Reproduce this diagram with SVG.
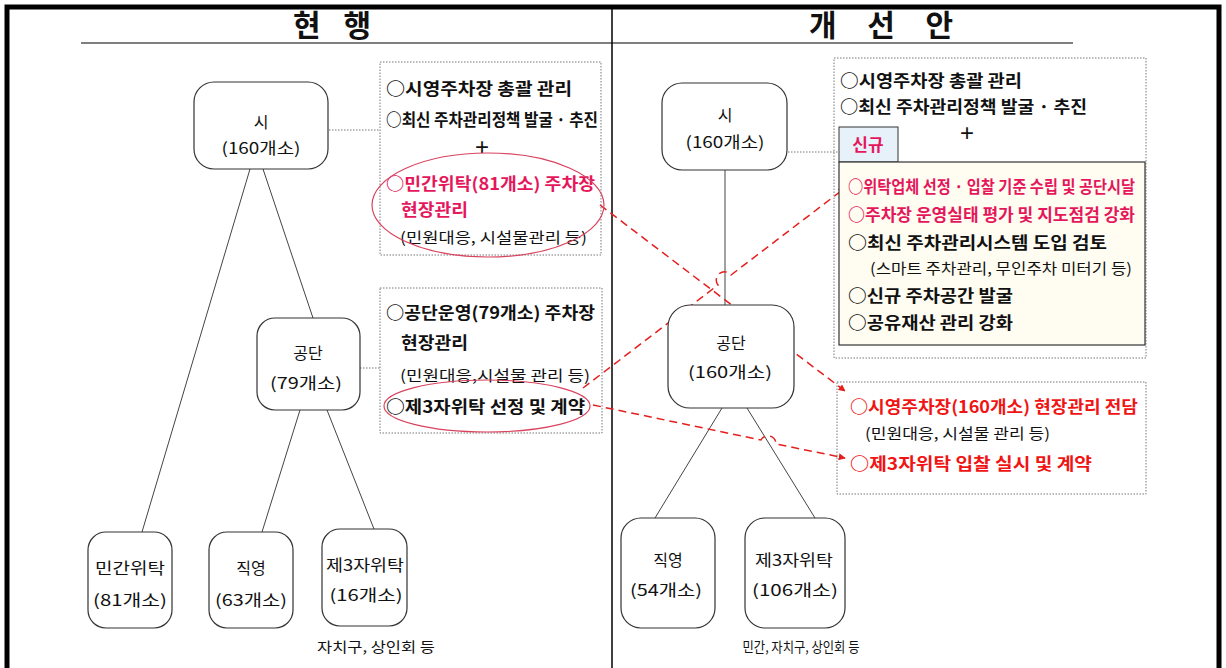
<svg xmlns="http://www.w3.org/2000/svg" width="1226" height="668" viewBox="0 0 1226 668">
<defs>
<style>
.t{font-family:"Noto Sans CJK KR","Noto Sans",sans-serif;fill:#111}
.b{font-weight:700;font-size:17px}
.n{font-size:15px;font-weight:400}
.nd{font-size:16px;font-weight:400;text-anchor:middle}
.pk{fill:#e5175c}
.rd{fill:#f01414}
.node{fill:#fff;stroke:#333;stroke-width:1.2}
.dot{fill:none;stroke:#777;stroke-width:1;stroke-dasharray:1.5 1.5}
.conn{stroke:#444;stroke-width:1;fill:none}
.arr{stroke:#e61e1e;stroke-width:1.5;stroke-dasharray:8 5;fill:none;marker-end:url(#ah)}
.ell{fill:none;stroke:#d9435f;stroke-width:1.2}
.plus{font-family:"Liberation Sans",sans-serif;font-size:24px;font-weight:400;fill:#111;text-anchor:middle}
</style>
<marker id="ah" viewBox="0 0 10 10" refX="9" refY="5" markerWidth="7" markerHeight="7" orient="auto" markerUnits="userSpaceOnUse">
<path d="M0,0 L10,5 L0,10 z" fill="#e61e1e"/>
</marker>
</defs>
<rect width="1226" height="668" fill="#fff"/>
<path d="M7,668 V7 H1219 V668" fill="none" stroke="#000" stroke-width="5"/>
<line x1="612" y1="9" x2="612" y2="668" stroke="#000" stroke-width="1.5"/>
<line x1="81" y1="43" x2="612" y2="43" stroke="#000" stroke-width="1.2"/>
<line x1="612" y1="43" x2="1073" y2="43" stroke="#000" stroke-width="1.2"/>
<text class="t" x="332" y="36" font-size="30" font-weight="700" text-anchor="middle" textLength="78" lengthAdjust="spacing">현 행</text>
<text class="t" x="881" y="36" font-size="30" font-weight="700" text-anchor="middle" textLength="144" lengthAdjust="spacing">개 선 안</text>

<g id="connectors">
<line class="conn" x1="250" y1="169" x2="142" y2="532"/>
<line class="conn" x1="263" y1="169" x2="313" y2="318"/>
<line class="conn" x1="300" y1="410" x2="262" y2="532"/>
<line class="conn" x1="327" y1="410" x2="374" y2="529"/>
<line class="conn" x1="725" y1="170" x2="725" y2="305"/>
<line class="conn" x1="722" y1="408" x2="655" y2="518"/>
<line class="conn" x1="747" y1="408" x2="815" y2="518"/>
<line class="dot" x1="329" y1="130" x2="380" y2="130"/>
<line class="dot" x1="360" y1="368" x2="380" y2="368"/>
<line class="dot" x1="788" y1="152" x2="838" y2="152"/>
<path class="arr" d="M600,205 L845,391"/>
<path class="arr" d="M583,388 L718,285 A8,8 0 0 1 731,275 L845,188"/>
<path class="arr" d="M593,405 L761,440 A8,8 0 0 1 776,444 L845,458"/>
</g>

<g id="node-si-left">
<rect class="node" x="194" y="82" width="134" height="87" rx="20"/>
<text class="t nd" x="261" y="128">시</text>
<text class="t nd" x="261" y="154" textLength="79" lengthAdjust="spacingAndGlyphs">(160개소)</text>
</g>
<g id="node-gongdan-left">
<rect class="node" x="257" y="318" width="103" height="92" rx="18"/>
<text class="t nd" x="308" y="359">공단</text>
<text class="t nd" x="306" y="389" textLength="72" lengthAdjust="spacingAndGlyphs">(79개소)</text>
</g>
<g id="node-mingan-left">
<rect class="node" x="88" y="532" width="84" height="96" rx="18"/>
<text class="t nd" x="130" y="574" textLength="70" lengthAdjust="spacingAndGlyphs">민간위탁</text>
<text class="t nd" x="130" y="606" textLength="74" lengthAdjust="spacingAndGlyphs">(81개소)</text>
</g>
<g id="node-jikyoung-left">
<rect class="node" x="209" y="532" width="84" height="96" rx="18"/>
<text class="t nd" x="251" y="574">직영</text>
<text class="t nd" x="251" y="606" textLength="72" lengthAdjust="spacingAndGlyphs">(63개소)</text>
</g>
<g id="node-third-left">
<rect class="node" x="322" y="529" width="85" height="97" rx="18"/>
<text class="t nd" x="365" y="571" textLength="78" lengthAdjust="spacingAndGlyphs">제3자위탁</text>
<text class="t nd" x="366" y="601" textLength="73" lengthAdjust="spacingAndGlyphs">(16개소)</text>
</g>
<text class="t" x="376" y="652" font-size="14" text-anchor="middle" textLength="118" lengthAdjust="spacingAndGlyphs">자치구, 상인회 등</text>

<g id="box-si-left">
<rect class="dot" x="380" y="62" width="221" height="193"/>
<text class="t b" x="386" y="95" textLength="186" lengthAdjust="spacingAndGlyphs">○시영주차장 총괄 관리</text>
<text class="t b" x="386" y="126" textLength="212" lengthAdjust="spacingAndGlyphs">○최신 주차관리정책 발굴 · 추진</text>
<text class="plus" x="482" y="155">+</text>
<text class="t b pk" x="386" y="190" textLength="209" lengthAdjust="spacingAndGlyphs">○민간위탁(81개소) 주차장</text>
<text class="t b pk" x="401" y="216" textLength="67" lengthAdjust="spacingAndGlyphs">현장관리</text>
<text class="t n" x="400" y="243" textLength="187" lengthAdjust="spacingAndGlyphs">(민원대응, 시설물관리 등)</text>
<ellipse class="ell" cx="488" cy="205" rx="116" ry="52"/>
</g>

<g id="box-gongdan-left">
<rect class="dot" x="380" y="288" width="222" height="145"/>
<text class="t b" x="386" y="319" textLength="209" lengthAdjust="spacingAndGlyphs">○공단운영(79개소) 주차장</text>
<text class="t b" x="401" y="349" textLength="67" lengthAdjust="spacingAndGlyphs">현장관리</text>
<text class="t n" x="400" y="381" textLength="190" lengthAdjust="spacingAndGlyphs">(민원대응,시설물 관리 등)</text>
<text class="t b" x="386" y="413" textLength="199" lengthAdjust="spacingAndGlyphs">○제3자위탁 선정 및 계약</text>
<ellipse class="ell" cx="487" cy="406" rx="103" ry="26"/>
</g>

<g id="node-si-right">
<rect class="node" x="662" y="83" width="125" height="87" rx="20"/>
<text class="t nd" x="725" y="121">시</text>
<text class="t nd" x="725" y="148" textLength="79" lengthAdjust="spacingAndGlyphs">(160개소)</text>
</g>
<g id="node-gongdan-right">
<rect class="node" x="668" y="305" width="126" height="103" rx="22"/>
<text class="t nd" x="731" y="349">공단</text>
<text class="t nd" x="730" y="378" textLength="84" lengthAdjust="spacingAndGlyphs">(160개소)</text>
</g>
<g id="node-jikyoung-right">
<rect class="node" x="621" y="518" width="94" height="110" rx="20"/>
<text class="t nd" x="668" y="566">직영</text>
<text class="t nd" x="666" y="596" textLength="72" lengthAdjust="spacingAndGlyphs">(54개소)</text>
</g>
<g id="node-third-right">
<rect class="node" x="745" y="518" width="100" height="110" rx="20"/>
<text class="t nd" x="794" y="566" textLength="78" lengthAdjust="spacingAndGlyphs">제3자위탁</text>
<text class="t nd" x="795" y="596" textLength="86" lengthAdjust="spacingAndGlyphs">(106개소)</text>
</g>
<text class="t" x="801" y="652" font-size="14" text-anchor="middle" textLength="117" lengthAdjust="spacingAndGlyphs">민간, 자치구, 상인회 등</text>

<g id="box-si-right">
<rect class="dot" x="834" y="58" width="312" height="300"/>
<text class="t b" x="840" y="87" textLength="182" lengthAdjust="spacingAndGlyphs">○시영주차장 총괄 관리</text>
<text class="t b" x="840" y="113" textLength="247" lengthAdjust="spacingAndGlyphs">○최신 주차관리정책 발굴 · 추진</text>
<text class="plus" x="967" y="141">+</text>
<rect x="839" y="127" width="59" height="35" fill="#e6f1fa" stroke="#333" stroke-width="1"/>
<text class="t b pk" x="868" y="151" text-anchor="middle" font-size="16">신규</text>
<rect x="839" y="162" width="306" height="183" fill="#fffdf1" stroke="#333" stroke-width="1.2"/>
<text class="t b pk" x="848" y="193" textLength="287" lengthAdjust="spacingAndGlyphs">○위탁업체 선정 · 입찰 기준 수립 및 공단시달</text>
<text class="t b pk" x="848" y="221" textLength="287" lengthAdjust="spacingAndGlyphs">○주차장 운영실태 평가 및 지도점검 강화</text>
<text class="t b" x="848" y="249" textLength="259" lengthAdjust="spacingAndGlyphs">○최신 주차관리시스템 도입 검토</text>
<text class="t n" x="870" y="274" textLength="262" lengthAdjust="spacingAndGlyphs">(스마트 주차관리, 무인주차 미터기 등)</text>
<text class="t b" x="848" y="302" textLength="165" lengthAdjust="spacingAndGlyphs">○신규 주차공간 발굴</text>
<text class="t b" x="848" y="329" textLength="165" lengthAdjust="spacingAndGlyphs">○공유재산 관리 강화</text>
</g>

<g id="box-gongdan-right">
<rect class="dot" x="837" y="382" width="309" height="112"/>
<text class="t b rd" x="850" y="413" textLength="288" lengthAdjust="spacingAndGlyphs">○시영주차장(160개소) 현장관리 전담</text>
<text class="t n" x="865" y="439" textLength="185" lengthAdjust="spacingAndGlyphs">(민원대응, 시설물 관리 등)</text>
<text class="t b rd" x="850" y="470" textLength="242" lengthAdjust="spacingAndGlyphs">○제3자위탁 입찰 실시 및 계약</text>
</g>
</svg>
